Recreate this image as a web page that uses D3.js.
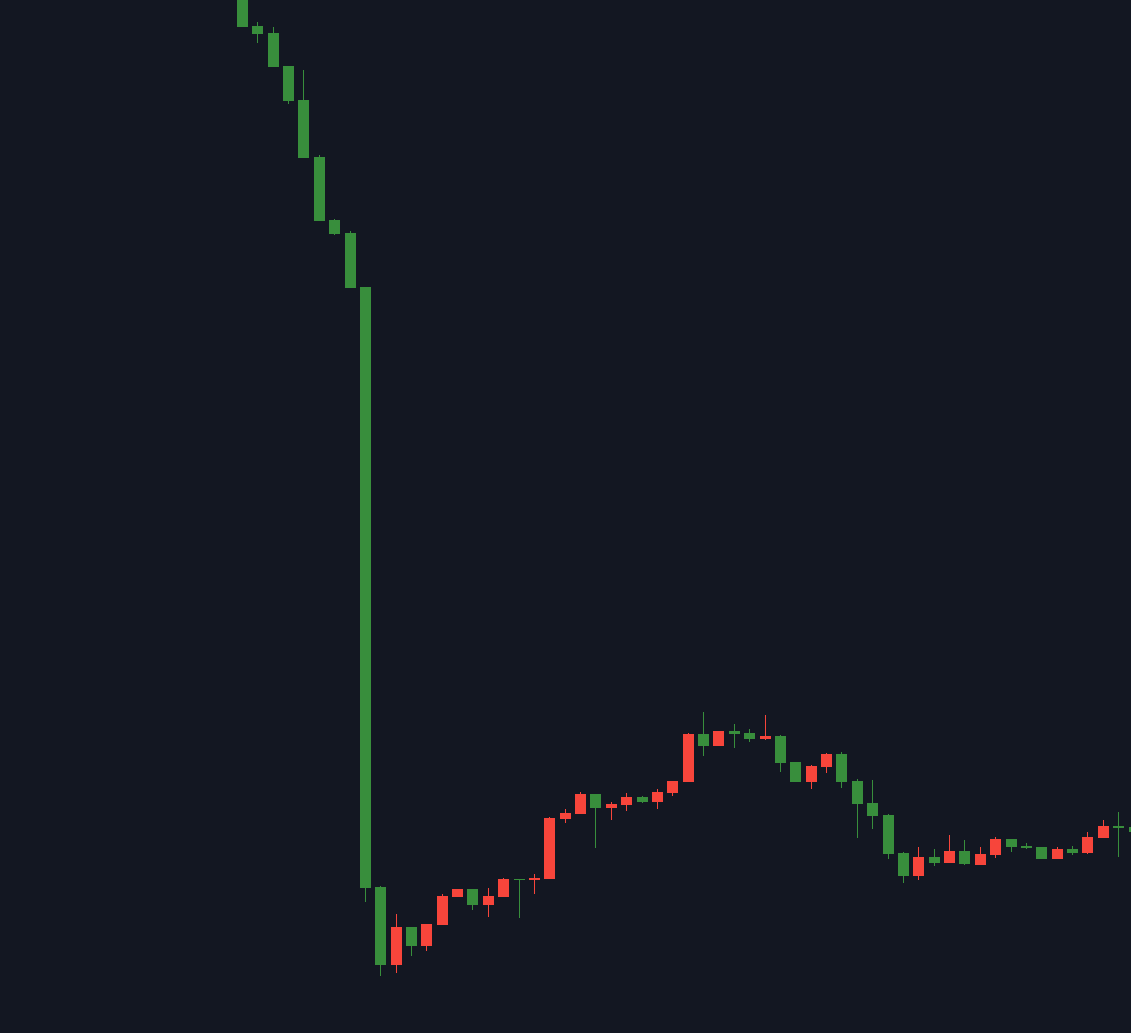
<!DOCTYPE html>
<html>
<head>
<meta charset="utf-8">
<script src="https://cdn.jsdelivr.net/npm/d3@7"></script>
<style>
html,body{margin:0;padding:0;background:#131722;overflow:hidden;}
svg{display:block;}
</style>
</head>
<body>
<svg id="chart" width="1131" height="1033"></svg>
<script>
const categories = d3.range(1, 60).map(i => "Bar " + i);
const opens  = [1063,1007,1000,967,933,876,813,800,746,146,68,106,87,108,136,144,128,136,154,153,154,214,219,239,225,228,236,231,240,251,299,287,302,300,294,297,271,251,266,279,252,230,218,180,157,176,170,182,168,178,194,187,186,174,184,180,195,207,206];
const highs  = [1065,1011,1006,967,963,878,814,802,746,147,119,106,109,139,144,144,145,155,154,159,216,224,241,239,231,240,237,244,252,300,321,302,309,304,318,298,271,268,280,281,254,253,219,181,186,184,198,193,186,196,194,190,186,186,187,201,213,221,206];
const lows   = [1006,990,966,929,875,812,798,745,131,57,60,77,82,108,136,123,116,136,115,139,154,210,219,185,213,222,230,224,237,251,277,287,285,291,293,261,251,244,260,245,195,204,174,150,153,167,170,168,168,175,181,184,174,174,178,179,195,176,201];
const closes = [1006,999,966,932,875,812,799,745,145,68,106,87,109,137,144,128,137,154,153,155,215,220,239,225,229,236,231,241,252,299,287,302,299,294,297,270,251,267,279,251,229,217,179,157,176,170,182,169,179,194,186,185,174,184,180,196,207,205,201];

const data = categories.map((c, i) => ({c, i, o: opens[i], h: highs[i], l: lows[i], cl: closes[i]}));

const W = 1131, H = 1033;
const svg = d3.select("#chart");
svg.append("rect").attr("width", W).attr("height", H).attr("fill", "#131722");

const x = d3.scaleLinear().domain([0, data.length - 1]).range([242.4, 1134]);
const y = d3.scaleLinear().domain([0, 1033]).range([1033, 0]);
const bodyW = 11;
const UP = "#f7453b", DOWN = "#388e3c";
const col = d => d.cl >= d.o ? UP : DOWN;

const g = svg.append("g");
const candle = g.selectAll("g.candle").data(data).join("g").attr("class", "candle");

candle.append("line")
  .attr("x1", d => Math.floor(x(d.i)) + 0.5)
  .attr("x2", d => Math.floor(x(d.i)) + 0.5)
  .attr("y1", d => y(d.h))
  .attr("y2", d => y(d.l))
  .attr("stroke", col)
  .attr("stroke-width", 1);

candle.append("rect")
  .attr("x", d => Math.round(x(d.i) - bodyW / 2))
  .attr("width", bodyW)
  .attr("y", d => y(Math.max(d.o, d.cl)))
  .attr("height", d => Math.max(1, Math.abs(y(d.o) - y(d.cl))))
  .attr("fill", col);
</script>
</body>
</html>
